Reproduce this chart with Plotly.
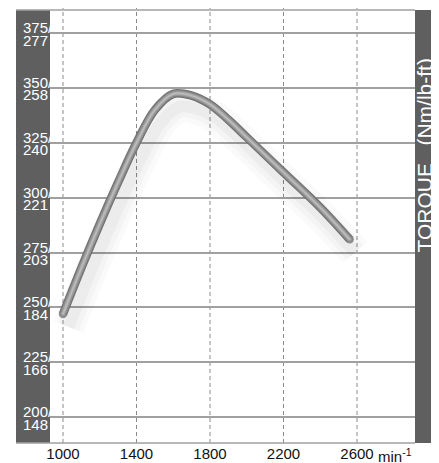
import plotly.graph_objects as go

# ---- data ----
rpm = [1000, 1100, 1200, 1300, 1400, 1500, 1600, 1700, 1800, 1900, 2000, 2200, 2400, 2560]
torque_nm = [247, 268, 288, 307, 325, 340, 347.3, 346.5, 342.5, 335.5, 327.5, 311.5, 295.5, 281]

x_ticks = [1000, 1400, 1800, 2200, 2600]
x_ticklabels = ["1000", "1400", "1800", "2200", "2600"]
y_ticks_nm = [200, 225, 250, 275, 300, 325, 350, 375]
y_ticks_lbft = ["148", "166", "184", "203", "221", "240", "258", "277"]
x_unit = "min<sup>-1</sup>"
y_title = "TORQUE&nbsp;&nbsp;&nbsp;(Nm/lb-ft)"

# page body has an 8px margin, so the figure is sized to fill the rest of the window
W, H = 431, 455
ML, MR, MT, MB = 42, 24, 2, 20
PW = W - ML - MR
PH = H - MT - MB
FONT = "Arial, Liberation Sans, sans-serif"
PANEL = "#5f5f5f"

fig = go.Figure()

n = len(rpm)
def ends(w):
    return [w] + [0] * (n - 2) + [w]

# soft shadow
shadow_dx, shadow_dy = 30, -6
sx = [v + shadow_dx for v in rpm]
sy = [v + shadow_dy for v in torque_nm]
for w, a in [(32, 0.02), (22, 0.025), (12, 0.03)]:
    fig.add_trace(go.Scatter(x=sx, y=sy, mode="lines", line=dict(color=f"rgba(0,0,0,{a})", width=w, shape="spline"),
                             hoverinfo="skip", showlegend=False))

# tube-like curve
for w, c in [(8.5, "#6e6e6e"), (6.8, "#838383"), (5.0, "#979797"), (3.0, "#acacac"), (1.2, "#bdbdbd")]:
    fig.add_trace(go.Scatter(x=rpm, y=torque_nm, mode="lines+markers",
                             line=dict(color=c, width=w, shape="spline"),
                             marker=dict(size=ends(w), color=c, line=dict(width=0)),
                             hoverinfo="skip", showlegend=False))

shapes = []
# dark panels
shapes.append(dict(type="rect", xref="paper", yref="paper", x0=-34 / PW, x1=0, y0=0, y1=1,
                   fillcolor=PANEL, line=dict(width=0), layer="below"))
shapes.append(dict(type="rect", xref="paper", yref="paper", x0=1, x1=(W - ML) / PW, y0=0, y1=1,
                   fillcolor=PANEL, line=dict(width=0), layer="below"))
# vertical dashed grid lines extending above the frame
for xv in x_ticks:
    shapes.append(dict(type="line", xref="x", yref="paper", x0=xv, x1=xv, y0=0, y1=1 + MT / PH,
                       line=dict(color="#8a8a8a", width=1, dash="4px,3px"), layer="below"))
# top and bottom frame lines
for yv in (0, 1):
    shapes.append(dict(type="line", xref="paper", yref="paper", x0=-34 / PW, x1=1, y0=yv, y1=yv,
                       line=dict(color="#a0a0a0", width=1.5), layer="below"))

annotations = []
for v, lb in zip(y_ticks_nm, y_ticks_lbft):
    annotations.append(dict(xref="paper", yref="y", x=-29.5 / PW, y=v, text=f"{v}/", showarrow=False,
                            xanchor="left", yanchor="middle", yshift=5.5,
                            font=dict(family=FONT, size=15, color="white")))
    annotations.append(dict(xref="paper", yref="y", x=-29.5 / PW, y=v, text=lb, showarrow=False,
                            xanchor="left", yanchor="middle", yshift=-7,
                            font=dict(family=FONT, size=15, color="white")))
annotations.append(dict(xref="paper", yref="paper", x=326 / PW, y=-13 / PH, text=x_unit,
                        showarrow=False, xanchor="left", yanchor="middle",
                        font=dict(family=FONT, size=15, color="#111")))
annotations.append(dict(xref="paper", yref="paper", x=373.5 / PW, y=287 / PH,
                        text=y_title, showarrow=False, textangle=-90, xanchor="center", yanchor="middle",
                        font=dict(family=FONT, size=21, color="white")))

fig.update_layout(
    width=W, height=H,
    margin=dict(l=ML, r=MR, t=MT, b=MB, autoexpand=False),
    paper_bgcolor="white", plot_bgcolor="white",
    shapes=shapes, annotations=annotations,
    xaxis=dict(range=[929.3, 2915.6], tickvals=x_ticks, ticktext=x_ticklabels, showgrid=False,
               zeroline=False, showline=False, ticks="", tickfont=dict(family=FONT, size=15, color="#111")),
    yaxis=dict(range=[188.2, 385.5], tickvals=y_ticks_nm, showticklabels=False, showgrid=True,
               gridcolor="#a0a0a0", gridwidth=1.5, zeroline=False, showline=False, ticks=""),
    showlegend=False,
)

fig.write_html("out.html")
